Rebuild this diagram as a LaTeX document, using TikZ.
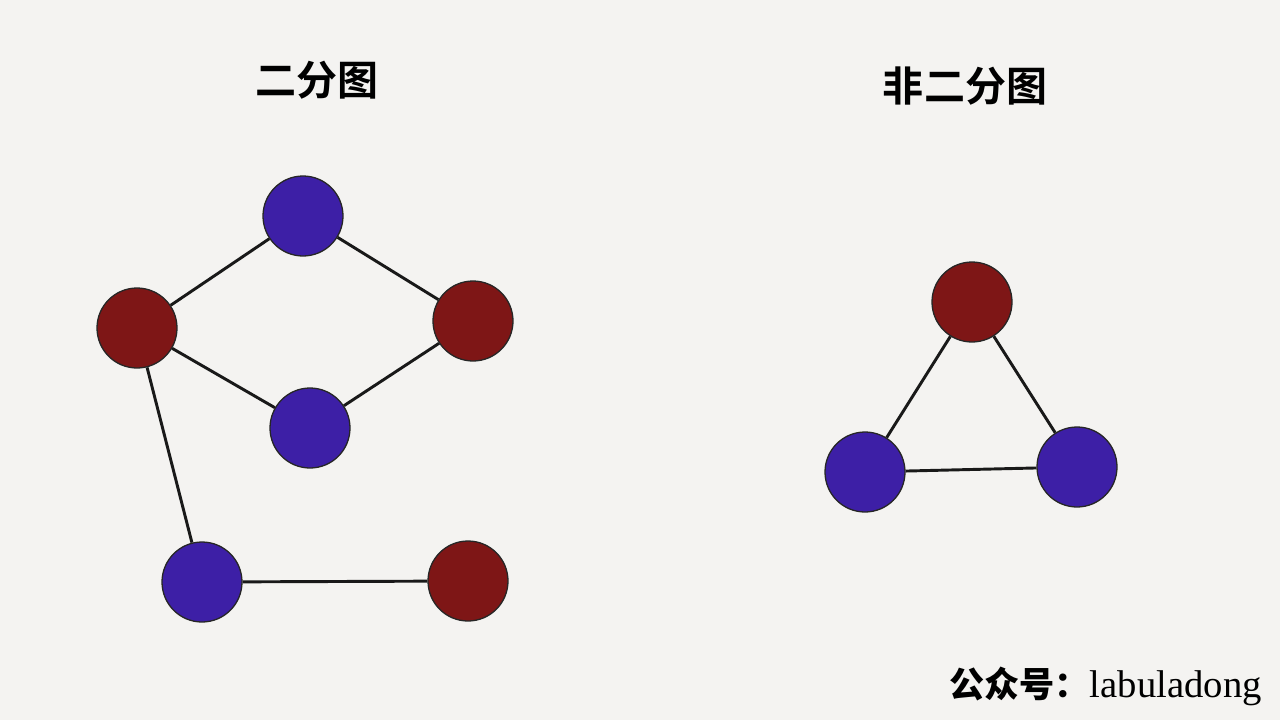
\documentclass[tikz,border=0pt]{standalone}
\usepackage{fontspec}
\setmainfont{Liberation Serif}
\newfontfamily\cjk{Noto Sans CJK SC}
\newfontfamily\cjkbold{Noto Sans CJK SC Bold}
\usetikzlibrary{calc}
\definecolor{paper}{HTML}{F4F3F1}
\newcommand{\clrone}{blueA}
\newcommand{\clrtwo}{redA}
\definecolor{blueA}{HTML}{3D1FA6}
\definecolor{redA}{HTML}{7E1616}

\begin{document}
\begin{tikzpicture}[x=0.03cm, y=-0.03cm,
    vtx/.style={circle, draw=black!85, line width=1.1pt, minimum size=2.4cm, inner sep=0pt},
    edge/.style={line width=2.5pt, black!90}]

    \fill[paper] (0,0) rectangle (1280,720);
    \useasboundingbox (0,0) rectangle (1280,720);

    \node[font=\cjkbold\fontsize{35}{40}\selectfont] (t1) at (317,80) {二分图};
    \node[font=\cjkbold\fontsize{35}{40}\selectfont] (t2) at (965,86) {非二分图};

    \node[vtx, fill=\clrone] (a) at (303,216) {};
    \node[vtx, fill=\clrtwo] (b) at (137,328) {};
    \node[vtx, fill=\clrtwo] (c) at (473,321) {};
    \node[vtx, fill=\clrone] (d) at (310,428) {};
    \node[vtx, fill=\clrone] (e) at (202,582) {};
    \node[vtx, fill=\clrtwo] (f) at (468,581) {};

    \node[vtx, fill=\clrtwo] (p) at (972,302) {};
    \node[vtx, fill=\clrone] (q) at (865,472) {};
    \node[vtx, fill=\clrone] (r) at (1077,467) {};

    \draw[edge] (a) -- (b) -- (d) -- (c) -- (a);
    \draw[edge] (b) -- (e) -- (f);
    \draw[edge] (p) -- (q) -- (r) -- (p);

    \node[anchor=east, inner sep=0pt] (wm) at (1262,686) {{\cjk\bfseries\fontsize{30}{34}\selectfont 公众号：}{\fontsize{33}{36}\selectfont labuladong}};

\end{tikzpicture}
\end{document}
